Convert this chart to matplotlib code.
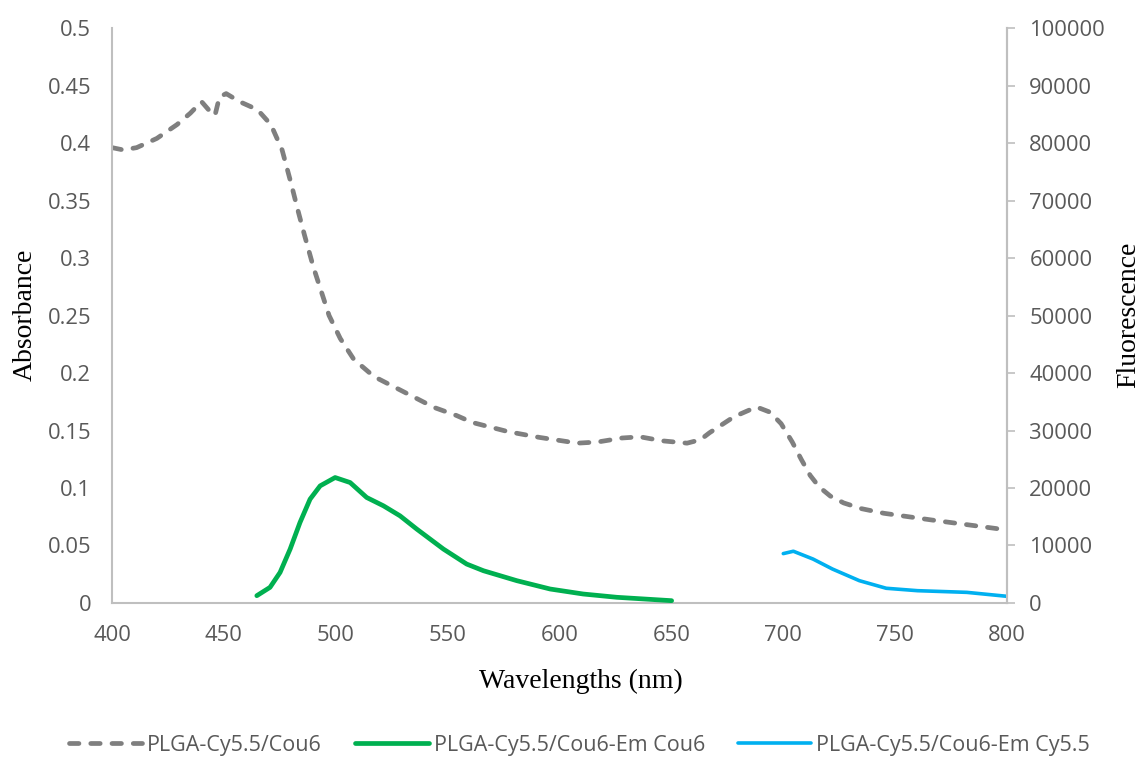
import matplotlib.pyplot as plt

plt.rcParams['font.family'] = ['Open Sans', 'DejaVu Sans']

# absorbance (left axis)
abs_wl = [400, 405, 411, 420, 429, 435, 440, 444, 446, 448, 451, 457, 465, 471,
          476, 480, 483, 486, 490, 494, 497, 502, 508, 517, 529, 544, 554, 561,
          577, 591, 608, 617, 628, 636, 646, 657, 663, 667, 678, 688, 694, 699,
          704, 708, 712, 716, 721, 727, 735, 745, 767, 800]
abs_val = [0.396, 0.394, 0.396, 0.404, 0.416, 0.426, 0.436, 0.427, 0.424, 0.440,
           0.443, 0.436, 0.429, 0.416, 0.394, 0.365, 0.342, 0.320, 0.292, 0.268,
           0.250, 0.230, 0.212, 0.197, 0.185, 0.170, 0.163, 0.157, 0.149, 0.144,
           0.139, 0.140, 0.1435, 0.1445, 0.141, 0.139, 0.142, 0.148, 0.162,
           0.1705, 0.166, 0.156, 0.140, 0.125, 0.111, 0.101, 0.093, 0.087,
           0.082, 0.078, 0.072, 0.0635]

# fluorescence emission (right axis)
cou6_wl = [464.7, 470.6, 475.1, 479.6, 484.0, 488.5, 493.0, 499.7, 506.4, 513.8,
           521.3, 528.7, 536.2, 548.1, 558.5, 566.0, 580.9, 595.8, 610.6, 625.6,
           650.1]
cou6_val = [1270, 2720, 5320, 9380, 14000, 18060, 20370, 21820, 20950, 18350,
            16900, 15160, 12850, 9380, 6770, 5610, 3880, 2430, 1560, 990, 400]

cy55_wl = [700, 704.5, 713.3, 722, 734, 746, 760, 782, 800]
cy55_val = [8590, 9000, 7640, 5900, 3880, 2560, 2140, 1850, 1160]

labels = ['PLGA-Cy5.5/Cou6', 'PLGA-Cy5.5/Cou6-Em Cou6', 'PLGA-Cy5.5/Cou6-Em Cy5.5']

fig = plt.figure(figsize=(11.41, 7.58), dpi=100)
ax1 = fig.add_axes([0.0982, 0.2045, 0.7844, 0.7585])
ax2 = ax1.twinx()

l1, = ax1.plot(abs_wl, abs_val, color='#7f7f7f', lw=3.4, dashes=(2.0, 2.5),
               dash_capstyle='round', label=labels[0])
l2, = ax2.plot(cou6_wl, cou6_val, color='#00b050', lw=3.4,
               solid_capstyle='round', solid_joinstyle='round', label=labels[1])
l3, = ax2.plot(cy55_wl, cy55_val, color='#00b0f0', lw=2.6,
               solid_capstyle='round', solid_joinstyle='round', label=labels[2])

ax1.set_xlim(400, 800)
ax1.set_ylim(0, 0.5)
ax2.set_ylim(0, 100000)
ax1.set_xticks(range(400, 801, 50))
ax1.set_yticks([i * 0.05 for i in range(11)])
ax1.set_yticklabels(['0', '0.05', '0.1', '0.15', '0.2', '0.25', '0.3', '0.35',
                     '0.4', '0.45', '0.5'])
ax2.set_yticks(range(0, 100001, 10000))

for ax in (ax1, ax2):
    for s in ax.spines.values():
        s.set_color('#bfbfbf')
        s.set_linewidth(1.5)
    ax.spines['top'].set_visible(False)
ax2.spines['left'].set_visible(False)
ax2.spines['bottom'].set_visible(False)

ax1.tick_params(axis='x', length=0, labelsize=15.8, labelcolor='#595959', pad=16)
ax1.tick_params(axis='y', length=0, labelsize=15.8, labelcolor='#595959', pad=15)
ax2.tick_params(axis='y', length=6, width=1.2, color='#bfbfbf', labelsize=15.8,
                labelcolor='#595959', pad=10)

ax1.set_xlabel('Wavelengths (nm)', family='Liberation Serif', fontsize=20)
ax1.xaxis.set_label_coords(0.524, -0.114)
# axis titles placed by hand, like the reference
fig.text(25 / 1141, 1 - 315 / 758, 'Absorbance', family='Liberation Serif',
         fontsize=20, rotation=90, ha='center', va='center')
fig.text(1129 / 1141, 1 - 315 / 758, 'Fluorescence', family='Liberation Serif',
         fontsize=20, rotation=90, ha='center', va='center')

fig.legend([l1, l2, l3], labels, loc='center', bbox_to_anchor=(0.508, 0.017),
           ncol=3, frameon=False, fontsize=15.5, labelcolor='#595959',
           handlelength=3.4, handletextpad=0.23, columnspacing=1.55)

fig.savefig('out.png', dpi=100)
